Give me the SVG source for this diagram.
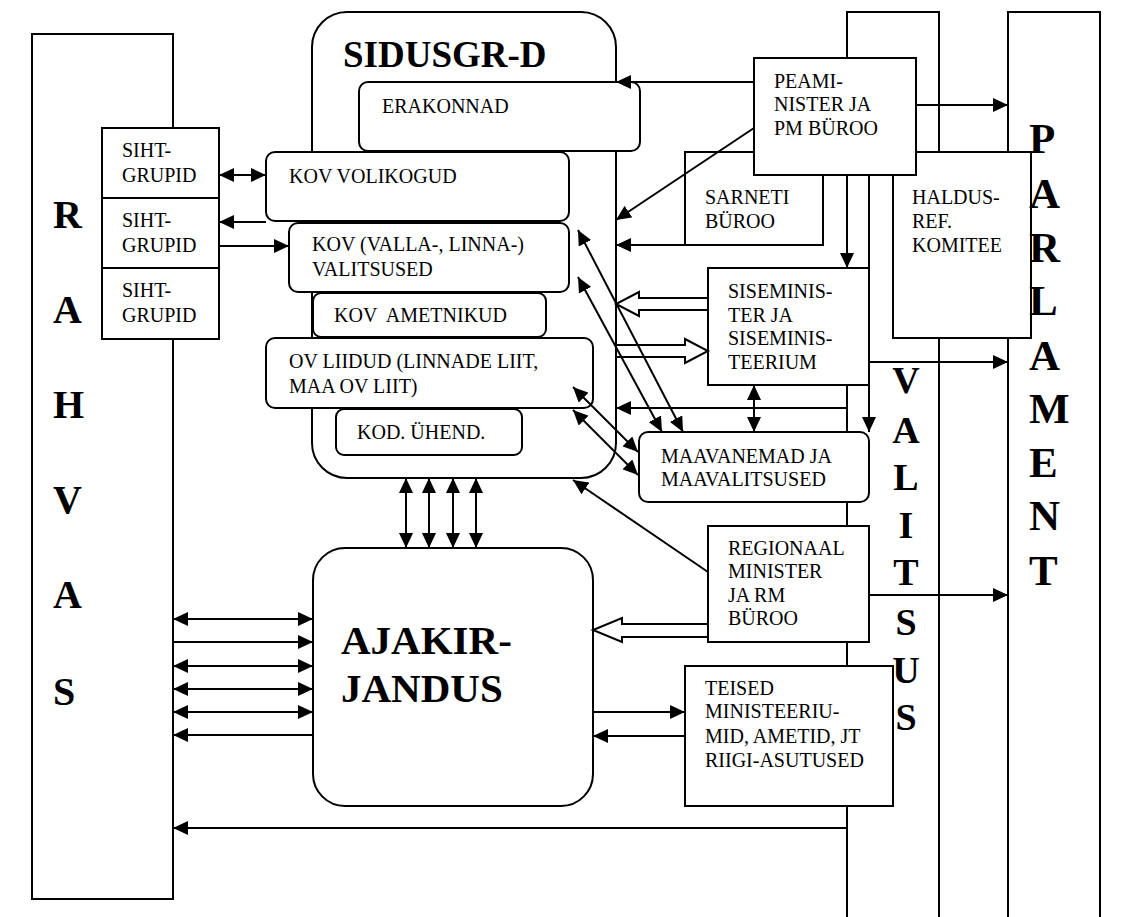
<svg xmlns="http://www.w3.org/2000/svg" width="1129" height="917" viewBox="0 0 1129 917">
<style>
.b{fill:#fff;stroke:#000;stroke-width:2}
.t{font-family:"Liberation Serif","Times New Roman",serif;font-size:20px;fill:#000}
.big{font-family:"Liberation Serif","Times New Roman",serif;font-weight:bold;fill:#000}
.c{fill:none;stroke:#000;stroke-width:2}
.h{fill:#fff;stroke:#000;stroke-width:2;stroke-linejoin:miter}
.e{marker-end:url(#ah)}
.d{marker-start:url(#ah);marker-end:url(#ah)}
</style>
<defs>
<marker id="ah" viewBox="0 0 15 14" refX="15" refY="7" markerWidth="15" markerHeight="14" markerUnits="userSpaceOnUse" orient="auto-start-reverse"><path d="M0,0 L15,7 L0,14 z" fill="#000"/></marker>
</defs>
<rect width="1129" height="917" fill="#fff"/>
<g id="rahvas"><rect class="b" x="32" y="34" width="141" height="865"/></g>
<g id="valitsus"><rect class="b" x="847" y="12" width="92" height="920"/></g>
<g id="parlament"><rect class="b" x="1008" y="12" width="92" height="920"/></g>
<g id="sihtgrupid1"><rect class="b" x="102" y="128" width="117" height="70"/><text class="t" x="122" y="157">SIHT-</text><text class="t" x="122" y="182">GRUPID</text></g>
<g id="sihtgrupid2"><rect class="b" x="102" y="198" width="117" height="70"/><text class="t" x="122" y="227">SIHT-</text><text class="t" x="122" y="252">GRUPID</text></g>
<g id="sihtgrupid3"><rect class="b" x="102" y="268" width="117" height="71"/><text class="t" x="122" y="297">SIHT-</text><text class="t" x="122" y="322">GRUPID</text></g>
<g id="sidusgrd"><rect class="b" x="312" y="12" width="304" height="466" rx="35"/><text class="big" x="343" y="67" font-size="37">SIDUSGR-D</text></g>
<g id="erakonnad"><rect class="b" x="359" y="82" width="281" height="69" rx="9"/><text class="t" x="382" y="113">ERAKONNAD</text></g>
<g id="kovvolikogud"><rect class="b" x="266" y="152" width="303" height="69" rx="9"/><text class="t" x="289" y="183">KOV VOLIKOGUD</text></g>
<g id="kovvalitsused"><rect class="b" x="289" y="223" width="280" height="69" rx="9"/><text class="t" x="312" y="251">KOV (VALLA-, LINNA-)</text><text class="t" x="312" y="276">VALITSUSED</text></g>
<g id="kovametnikud"><rect class="b" x="313" y="293" width="233" height="44" rx="8"/><text class="t" x="334" y="322" xml:space="preserve">KOV  AMETNIKUD</text></g>
<g id="ovliidud"><rect class="b" x="266" y="338" width="327" height="70" rx="9"/><text class="t" x="289" y="368">OV LIIDUD (LINNADE LIIT,</text><text class="t" x="289" y="393">MAA OV LIIT)</text></g>
<g id="kodyhend"><rect class="b" x="336" y="409" width="186" height="46" rx="8"/><text class="t" x="357" y="439">KOD. ÜHEND.</text></g>
<g id="ajakirjandus"><rect class="b" x="313" y="548" width="280" height="258" rx="32"/><text class="big" x="341" y="654" font-size="41">AJAKIR-</text><text class="big" x="341" y="702" font-size="41">JANDUS</text></g>
<g id="sarneti"><rect class="b" x="685" y="152" width="138" height="93"/><text class="t" x="705" y="204">SARNETI</text><text class="t" x="705" y="228">BÜROO</text></g>
<g id="haldusref"><rect class="b" x="893" y="152" width="138" height="186"/><text class="t" x="912" y="204">HALDUS-</text><text class="t" x="912" y="228">REF.</text><text class="t" x="912" y="252">KOMITEE</text></g>
<g id="peaminister"><rect class="b" x="754" y="58" width="162" height="117"/><text class="t" x="774" y="88">PEAMI-</text><text class="t" x="774" y="111">NISTER JA</text><text class="t" x="774" y="135">PM BÜROO</text></g>
<g id="siseminister"><rect class="b" x="708" y="268" width="161" height="117"/><text class="t" x="728" y="298">SISEMINIS-</text><text class="t" x="728" y="322">TER JA</text><text class="t" x="728" y="345">SISEMINIS-</text><text class="t" x="728" y="369">TEERIUM</text></g>
<g id="maavanemad"><rect class="b" x="639" y="432" width="230" height="70" rx="9"/><text class="t" x="661" y="463">MAAVANEMAD JA</text><text class="t" x="661" y="486">MAAVALITSUSED</text></g>
<g id="regionaal"><rect class="b" x="708" y="526" width="161" height="116"/><text class="t" x="728" y="555">REGIONAAL</text><text class="t" x="728" y="578">MINISTER</text><text class="t" x="728" y="602">JA RM</text><text class="t" x="728" y="625">BÜROO</text></g>
<g id="teised"><rect class="b" x="685" y="666" width="208" height="140"/><text class="t" x="705" y="695">TEISED</text><text class="t" x="705" y="718">MINISTEERIU-</text><text class="t" x="705" y="743">MID, AMETID, JT</text><text class="t" x="705" y="767">RIIGI-ASUTUSED</text></g>
<g id="connectors">
<path class="c d" d="M219,175 H266"/>
<path class="c e" d="M266,222 H219"/>
<path class="c e" d="M219,246 H289"/>
<path class="c e" d="M754,82 H616"/>
<path class="c e" d="M754,128 L616,220"/>
<path class="c e" d="M685,245 H616"/>
<polygon class="h" points="708,298 639,298 639,292 616,304 639,316 639,310 708,310"/>
<polygon class="h" points="616,345 685,345 685,339 708,351 685,363 685,357 616,357"/>
<path class="c e" d="M847,408 H616"/>
<path class="c d" d="M578,230 L683,432"/>
<path class="c d" d="M578,277 L662,432"/>
<path class="c d" d="M573,387 L638,452"/>
<path class="c d" d="M573,410 L638,475"/>
<path class="c d" d="M754,385 V432"/>
<path class="c e" d="M847,175 V268"/>
<path class="c e" d="M869,175 V432"/>
<path class="c e" d="M708,572 L573,480"/>
<path class="c d" d="M406,478 V548"/>
<path class="c d" d="M429,478 V548"/>
<path class="c d" d="M453,478 V548"/>
<path class="c d" d="M476,478 V548"/>
<path class="c d" d="M173,619 H313"/>
<path class="c e" d="M173,642 H313"/>
<path class="c d" d="M173,666 H313"/>
<path class="c d" d="M173,689 H313"/>
<path class="c d" d="M173,712 H313"/>
<path class="c e" d="M313,735 H173"/>
<polygon class="h" points="708,624 622,624 622,618 593,630 622,642 622,637 708,637"/>
<path class="c e" d="M593,712 H685"/>
<path class="c e" d="M685,736 H593"/>
<path class="c e" d="M916,105 H1008"/>
<path class="c e" d="M869,362 H1008"/>
<path class="c e" d="M869,595 H1008"/>
<path class="c e" d="M847,828 H173"/>
</g>
<g id="rahvas-label" class="big" font-size="40">
<text x="53" y="228">R</text><text x="53" y="323">A</text><text x="53" y="418">H</text><text x="53" y="513">V</text><text x="53" y="608">A</text><text x="53" y="705">S</text>
</g>
<g id="valitsus-label" class="big" font-size="38" text-anchor="middle">
<text x="906" y="393">V</text><text x="906" y="443">A</text><text x="906" y="490">L</text><text x="906" y="538">I</text><text x="906" y="585">T</text><text x="906" y="635">S</text><text x="906" y="683">U</text><text x="906" y="730">S</text>
</g>
<g id="parlament-label" class="big" font-size="43">
<text x="1029" y="153">P</text><text x="1029" y="208">A</text><text x="1029" y="262">R</text><text x="1029" y="315">L</text><text x="1029" y="370">A</text><text x="1029" y="423">M</text><text x="1029" y="477">E</text><text x="1029" y="530">N</text><text x="1029" y="585">T</text>
</g>
</svg>
